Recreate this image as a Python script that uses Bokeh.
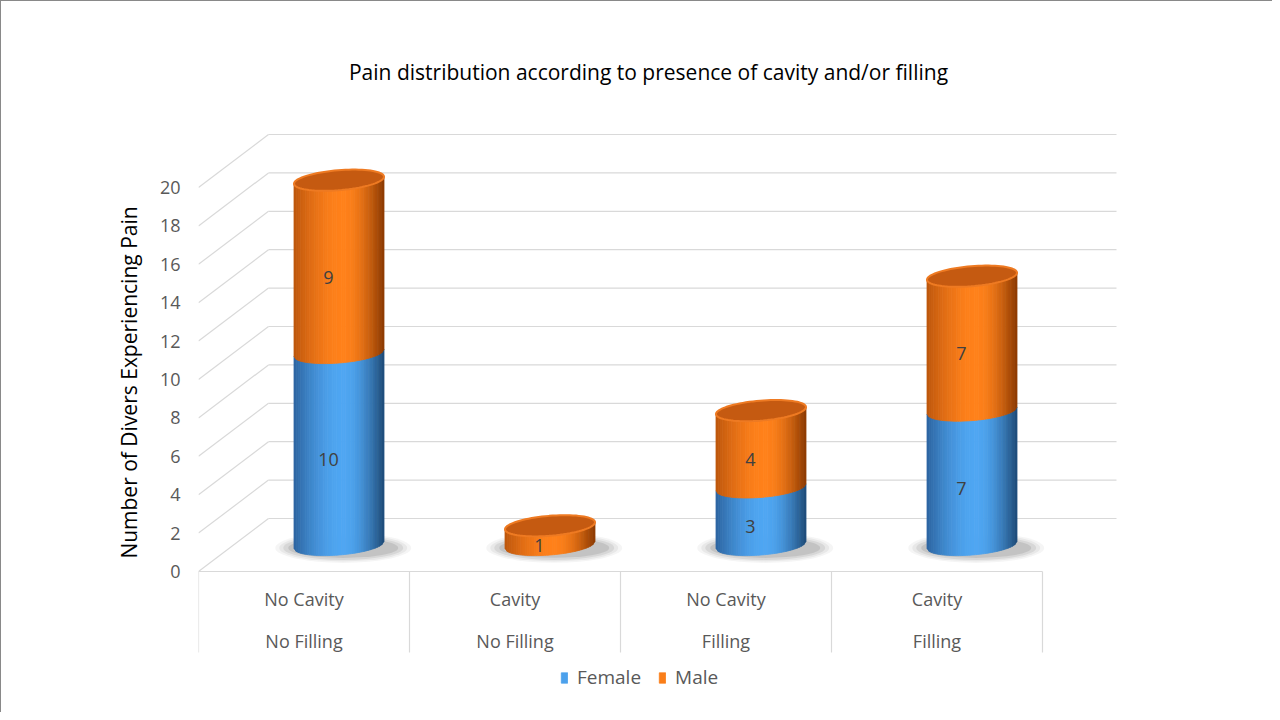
import numpy as np
from bokeh.plotting import figure
from bokeh.models import Range1d, FixedTicker, Legend, LegendItem
from bokeh.core.properties import value
from bokeh.embed import file_html
from bokeh.resources import INLINE

# ---------------- data ----------------
cat_top = ["No Cavity", "Cavity", "No Cavity", "Cavity"]
cat_bottom = ["No Filling", "No Filling", "Filling", "Filling"]
female = [10, 0, 3, 7]
male = [9, 1, 4, 7]
series_names = ["Female", "Male"]
y_ticks = [0, 2, 4, 6, 8, 10, 12, 14, 16, 18, 20]
title_text = "Pain distribution according to presence of cavity and/or filling"
y_title = "Number of Divers Experiencing Pain"

# ---------------- geometry (pixel scales -> data units) ----------------
PXC = 211.0      # px per category
PXV = 19.2       # px per value unit
DX = 70 / PXC    # depth offset x
DY = 53 / PXV    # depth offset y
BACK_RIGHT = (1116 - 198) / PXC
R = 45 / PXC     # cylinder half width
HH = 10 / PXV    # ellipse half height
TILT = 3.5 / PXV
FRAME_L, FRAME_W = 198, 922
FRAME_T, FRAME_B = 52, 712
ZERO_Y = 571
W, H = 1272, 712

FONT = "Open Sans"

p = figure(width=W, height=H, output_backend="svg", toolbar_location=None,
           x_range=Range1d(0, FRAME_W / PXC),
           y_range=Range1d(-(FRAME_B - ZERO_Y) / PXV, (ZERO_Y - FRAME_T) / PXV),
           min_border_left=FRAME_L, min_border_right=W - FRAME_L - FRAME_W,
           min_border_top=FRAME_T, min_border_bottom=0)
# thin grey chart border on the top and left edges, as in the reference
p.styles = {"box-shadow": "inset 1px 1px 0 0 #898989"}
p.xaxis.visible = False
p.xgrid.visible = False
p.ygrid.visible = False
p.outline_line_color = None
p.background_fill_color = "white"
p.border_fill_alpha = 0

ax = p.yaxis[0]
ax.ticker = FixedTicker(ticks=y_ticks)
ax.axis_line_color = None
ax.major_tick_line_color = None
ax.minor_tick_line_color = None
ax.major_tick_out = 0
ax.major_label_standoff = 18
ax.major_label_text_font = FONT
ax.major_label_text_font_size = "18px"
ax.major_label_text_color = "#595959"
ax.axis_label = y_title
ax.axis_label_text_font = FONT
ax.axis_label_text_font_size = "21px"
ax.axis_label_text_font_style = "normal"
ax.axis_label_text_color = "#000000"
ax.axis_label_standoff = 14

GRID = "#D9D9D9"
n = len(cat_top)

# chart title (inside the plotting area, where the reference puts it)
p.text(x=[(648 - FRAME_L) / PXC], y=[(ZERO_Y - 71) / PXV], text=[title_text],
       text_align="center", text_baseline="middle", text_font=value(FONT),
       text_font_size="21px", text_color="#000000")

# back wall gridlines + left side diagonals
p.segment(x0=[DX] * len(y_ticks), y0=[v + DY for v in y_ticks],
          x1=[BACK_RIGHT] * len(y_ticks), y1=[v + DY for v in y_ticks],
          line_color=GRID, line_width=1.2)
p.segment(x0=[0] * len(y_ticks), y0=y_ticks,
          x1=[DX] * len(y_ticks), y1=[v + DY for v in y_ticks],
          line_color=GRID, line_width=1.2)
# floor front edge and category table
p.segment(x0=[0], y0=[0], x1=[n], y1=[0], line_color=GRID, line_width=1.2)
table_bottom = -(652 - ZERO_Y) / PXV
p.segment(x0=list(range(n + 1)), y0=[0] * (n + 1), x1=list(range(n + 1)),
          y1=[table_bottom] * (n + 1), line_color=GRID, line_width=1.2)
p.text(x=[i + 0.5 for i in range(n)], y=[-(598 - ZERO_Y) / PXV] * n, text=cat_top,
       text_align="center", text_baseline="middle", text_font=value(FONT),
       text_font_size="18px", text_color="#595959")
p.text(x=[i + 0.5 for i in range(n)], y=[-(640 - ZERO_Y) / PXV] * n, text=cat_bottom,
       text_align="center", text_baseline="middle", text_font=value(FONT),
       text_font_size="18px", text_color="#595959")

# shading helpers
def hex2rgb(h):
    h = h.lstrip("#")
    return np.array([int(h[i:i + 2], 16) for i in (0, 2, 4)], dtype=float)

def rgb2hex(c):
    c = np.clip(np.round(c), 0, 255).astype(int)
    return "#%02x%02x%02x" % tuple(c)

PAL = {
    "Female": (hex2rgb("#2C64A0"), hex2rgb("#4FA6F2"), hex2rgb("#1E4B78")),
    "Male": (hex2rgb("#BD560D"), hex2rgb("#FF811A"), hex2rgb("#8C3A02")),
}
TOP_FACE = {"Female": ("#2E6FB0", "#5AAAF0"), "Male": ("#C55A11", "#EE7A22")}

def shade(name, t):
    left, peak, right = PAL[name]
    tp = 0.55
    if t <= tp:
        a = np.sin(0.5 * np.pi * t / tp)
        return rgb2hex(left + (peak - left) * a)
    a = np.sin(0.5 * np.pi * (1 - t) / (1 - tp))
    return rgb2hex(right + (peak - right) * a)

NS = 40
base0 = DY / 2
centers = [i + 0.5 + DX / 2 for i in range(n)]
totals = [f + m for f, m in zip(female, male)]

# shadows
sx, sy = [], []
for i in range(n):
    if totals[i] > 0:
        sx.append(centers[i] + 0.02)
        sy.append(base0 - 0.15)
for wpx, hpx, al in [(136, 30, 0.04), (128, 27, 0.05), (120, 24, 0.07), (110, 20, 0.09)]:
    p.ellipse(x=sx, y=sy, width=wpx / PXC, height=hpx / PXV,
              fill_color="#000000", fill_alpha=al, line_color=None)

# cylinders
pxs, pys, pcs = [], [], []
tops_x, tops_y, tops_fc, tops_lc = [], [], [], []
lab_x, lab_y, lab_t = [], [], []
legend_index = {}

def cy(c, u):
    return c - HH * np.sqrt(max(0.0, 1 - u * u)) + TILT * u

for i in range(n):
    cx = centers[i]
    bottom = 0.0
    segs = [("Female", female[i]), ("Male", male[i])]
    last = None
    for name, val in segs:
        if val <= 0:
            continue
        top = bottom + val
        yb, yt = base0 + bottom, base0 + top
        if name not in legend_index:
            legend_index[name] = len(pxs) + int(0.4 * NS)
        for k in range(NS):
            u0 = -1 + 2 * k / NS
            u1 = -1 + 2 * (k + 1) / NS
            pxs.append([cx + R * u0, cx + R * u1, cx + R * u1, cx + R * u0])
            pys.append([cy(yb, u0), cy(yb, u1), cy(yt, u1), cy(yt, u0)])
            pcs.append(shade(name, (k + 0.5) / NS))
        lab_x.append(cx - 0.05)
        lab_y.append(base0 + (bottom + top) / 2 - 0.55)
        lab_t.append(str(val))
        last = (name, top)
        bottom = top
    if last is not None:
        name, top = last
        th = np.linspace(0, 2 * np.pi, 80)
        u = np.cos(th)
        tops_x.append(list(cx + R * u))
        tops_y.append(list(base0 + top + HH * np.sin(th) + TILT * u))
        tops_fc.append(TOP_FACE[name][0])
        tops_lc.append(TOP_FACE[name][1])

bodies = p.patches(xs=pxs, ys=pys, fill_color=pcs, line_color=pcs, line_width=0.8)
p.patches(xs=tops_x, ys=tops_y, fill_color=tops_fc, line_color=tops_lc, line_width=2)
p.text(x=lab_x, y=lab_y, text=lab_t, text_align="center", text_baseline="middle",
       text_font=value(FONT), text_font_size="18px", text_color="#404040")

# legend
items = [LegendItem(label=name, renderers=[bodies], index=legend_index[name])
         for name in series_names]
legend = Legend(items=items, orientation="horizontal", location=(362, 22),
                border_line_color=None, background_fill_alpha=0,
                label_text_font=FONT, label_text_font_size="19px",
                label_text_color="#595959", glyph_width=8, glyph_height=13,
                label_standoff=9, spacing=17, padding=0, margin=0)
p.add_layout(legend)

open("out.html", "w").write(file_html(p, INLINE))
